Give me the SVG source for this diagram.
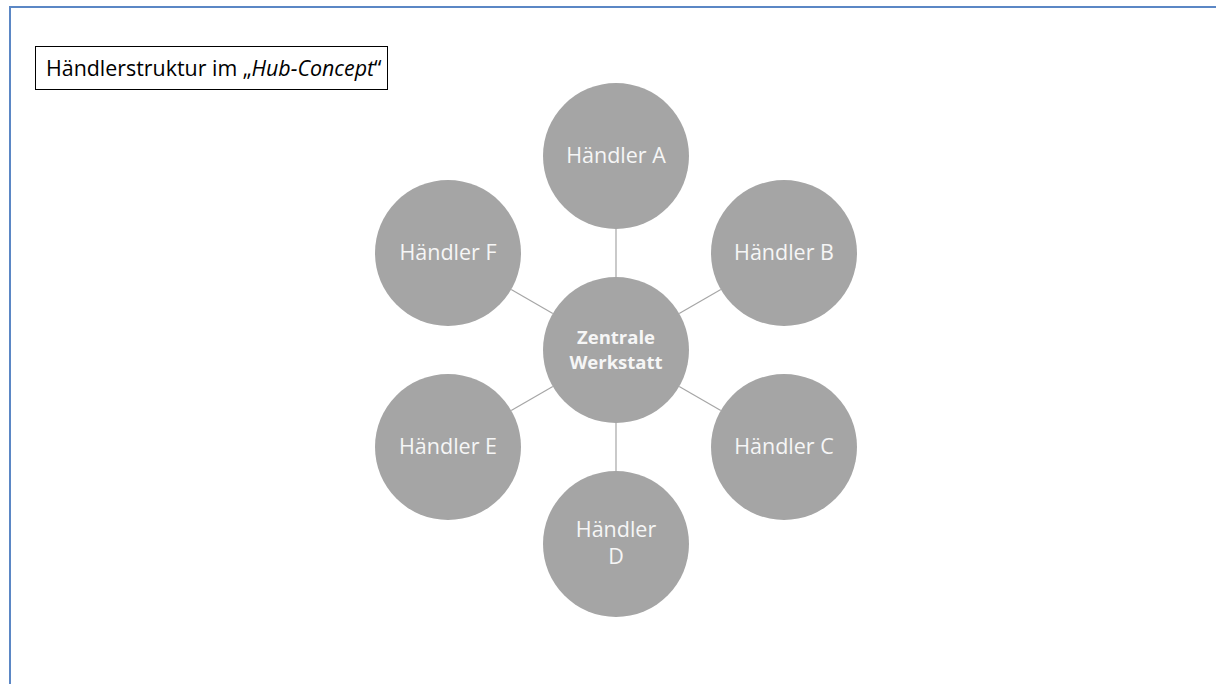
<svg xmlns="http://www.w3.org/2000/svg" width="1216" height="684" viewBox="0 0 1216 684">
  <style>
    .node circle { fill: #a5a5a5; }
    .label { font-family: "Open Sans", "Liberation Sans", sans-serif; font-size: 21.5px; fill: #f6f6f6; text-anchor: middle; }
    .hub { font-weight: bold; font-size: 18.5px; }
    .link { stroke: #a6a6a6; stroke-width: 1.2; fill: none; }
    .title { font-family: "Open Sans", "Liberation Sans", sans-serif; font-size: 21.4px; fill: #000; }
  </style>
  <rect width="1216" height="684" fill="#ffffff"/>
  <!-- page frame -->
  <path d="M10,684 V7 H1216" fill="none" stroke="#5b87c5" stroke-width="2"/>

  <g id="title">
    <rect x="35.5" y="46.5" width="352" height="43" fill="#ffffff" stroke="#000" stroke-width="1"/>
    <text class="title" x="46" y="76">Händlerstruktur im „<tspan font-style="italic">Hub-Concept</tspan>“</text>
  </g>

  <g id="connectors">
    <line class="link" x1="616" y1="229" x2="616" y2="277"/>
    <line class="link" x1="616" y1="423" x2="616" y2="471"/>
    <line class="link" x1="552.8" y1="313.5" x2="511.2" y2="289.5"/>
    <line class="link" x1="679.2" y1="313.5" x2="720.8" y2="289.5"/>
    <line class="link" x1="552.8" y1="386.5" x2="511.2" y2="410.5"/>
    <line class="link" x1="679.2" y1="386.5" x2="720.8" y2="410.5"/>
  </g>

  <g id="hub" class="node">
    <circle cx="616" cy="350" r="73"/>
    <text class="label hub" x="616" y="344">Zentrale</text>
    <text class="label hub" x="616" y="369">Werkstatt</text>
  </g>
  <g id="haendler-a" class="node">
    <circle cx="616" cy="156" r="73"/>
    <text class="label" x="616" y="163">Händler A</text>
  </g>
  <g id="haendler-b" class="node">
    <circle cx="784" cy="253" r="73"/>
    <text class="label" x="784" y="260">Händler B</text>
  </g>
  <g id="haendler-c" class="node">
    <circle cx="784" cy="447" r="73"/>
    <text class="label" x="784" y="454">Händler C</text>
  </g>
  <g id="haendler-d" class="node">
    <circle cx="616" cy="544" r="73"/>
    <text class="label" x="616" y="537">Händler</text>
    <text class="label" x="616" y="564">D</text>
  </g>
  <g id="haendler-e" class="node">
    <circle cx="448" cy="447" r="73"/>
    <text class="label" x="448" y="454">Händler E</text>
  </g>
  <g id="haendler-f" class="node">
    <circle cx="448" cy="253" r="73"/>
    <text class="label" x="448" y="260">Händler F</text>
  </g>
</svg>
